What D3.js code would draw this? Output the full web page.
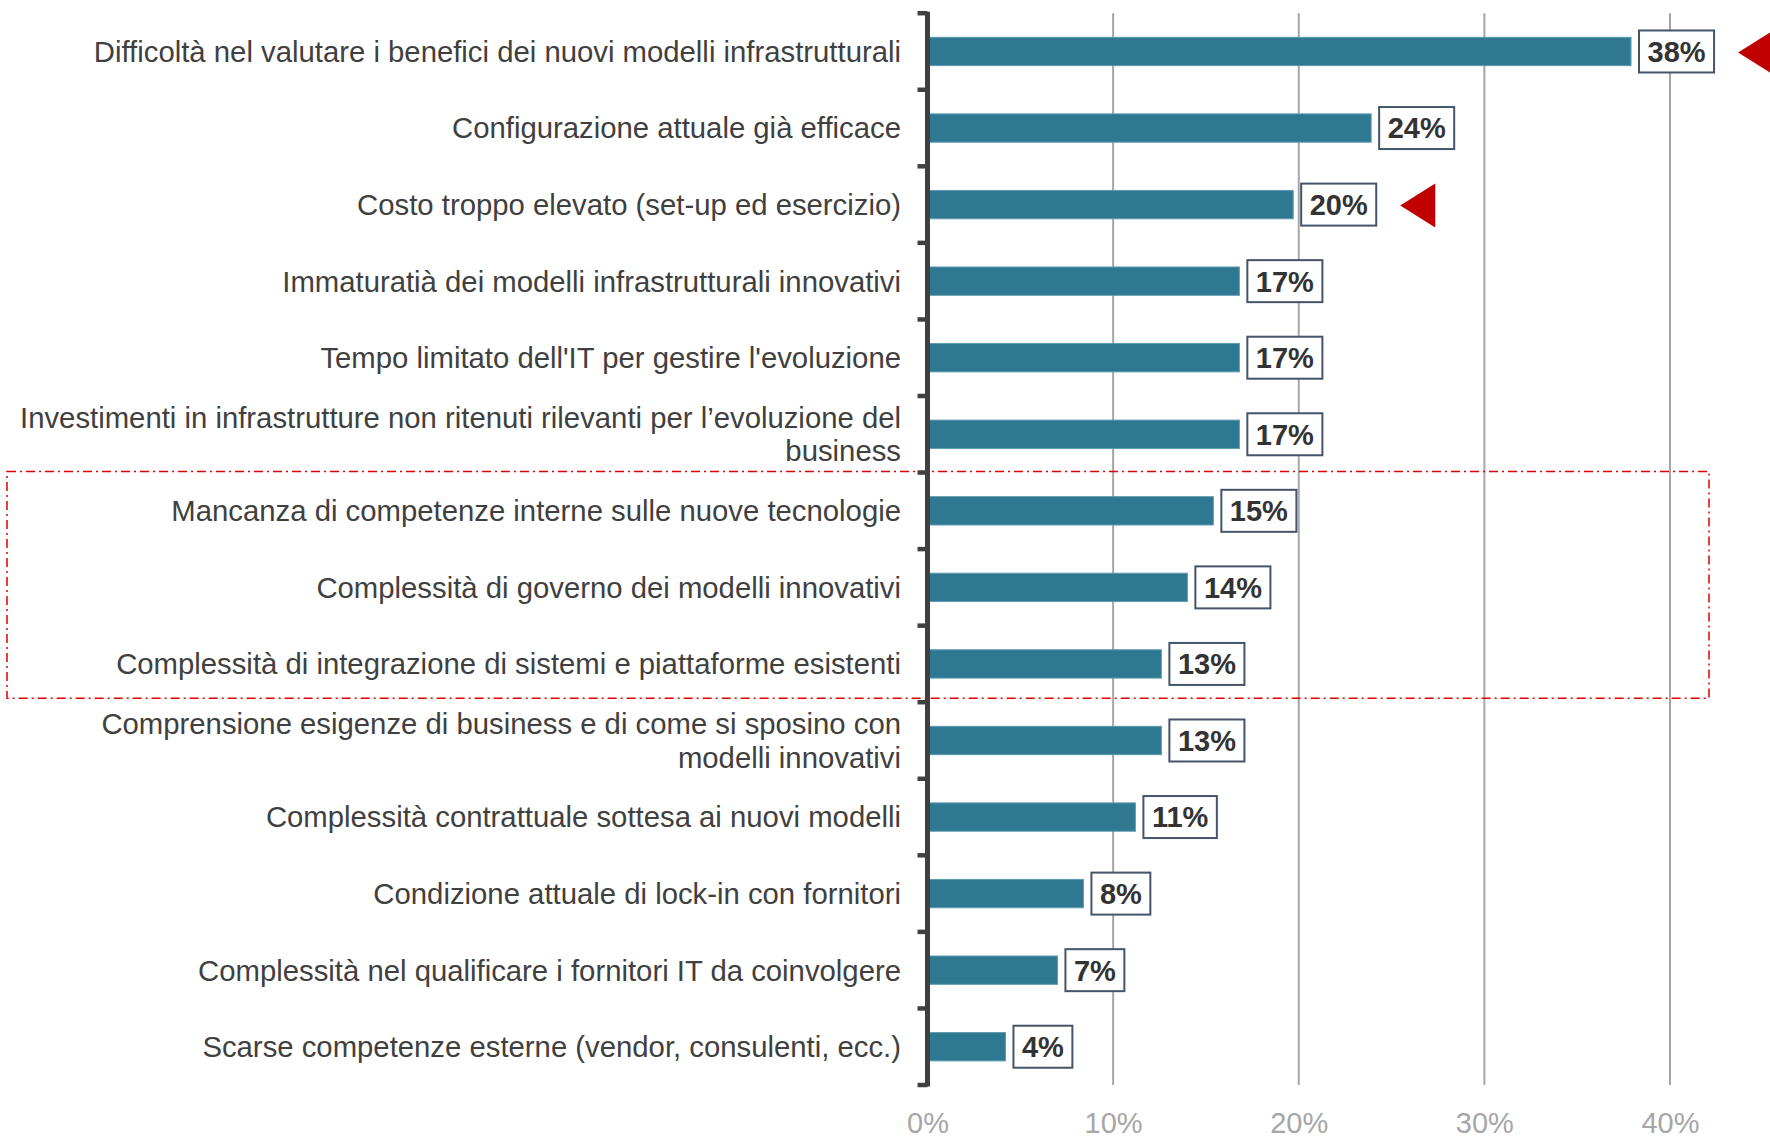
<!DOCTYPE html>
<html>
<head>
<meta charset="utf-8">
<script src="https://cdn.jsdelivr.net/npm/d3@7"></script>
<style>
  body { margin:0; background:#ffffff; }
  text { font-family: "Liberation Sans", Arial, sans-serif; }
</style>
</head>
<body>
<div id="chart"></div>
<script>
var w=1770
var h=1138

//Data (percent of respondents)
var categories=[
  "Difficoltà nel valutare i benefici dei nuovi modelli infrastrutturali",
  "Configurazione attuale già efficace",
  "Costo troppo elevato (set-up ed esercizio)",
  "Immaturatià dei modelli infrastrutturali innovativi",
  "Tempo limitato dell'IT per gestire l'evoluzione",
  "Investimenti in infrastrutture non ritenuti rilevanti per l’evoluzione del business",
  "Mancanza di competenze interne sulle nuove tecnologie",
  "Complessità di governo dei modelli innovativi",
  "Complessità di integrazione di sistemi e piattaforme esistenti",
  "Comprensione esigenze di business e di come si sposino con modelli innovativi",
  "Complessità contrattuale sottesa ai nuovi modelli",
  "Condizione attuale di lock-in con fornitori",
  "Complessità nel qualificare i fornitori IT da coinvolgere",
  "Scarse competenze esterne (vendor, consulenti, ecc.)"
];
var values=[37.9,23.9,19.7,16.8,16.8,16.8,15.4,14.0,12.6,12.6,11.2,8.4,7.0,4.2];
var tickValues=[0,10,20,30,40];
//Categories flagged with a red arrow
var arrowed=[categories[0],categories[2]];
//Categories inside the dashed red box
var boxed=[categories[6],categories[7],categories[8]];

var data=categories.map(function(c,i) {return {cat:c,value:values[i]};});

var svg=d3.select("#chart")
          .append("svg")
          .attr("width",w)
          .attr("height",h);

svg.append("rect")
   .attr("width",w)
   .attr("height",h)
   .attr("fill","#ffffff");

//Scales
var xScale=d3.scaleLinear()
             .domain([0,40])
             .range([927.5,1670]);

var yScale=d3.scaleBand()
             .domain(categories)
             .range([13.2,1085])
             .paddingInner(0.63)
             .paddingOuter(0.315);

var step=yScale.step();
var top0=yScale.range()[0];
var bottom0=yScale.range()[1];
function bandCenter(c) {return yScale(c)+yScale.bandwidth()/2;}
function bandTop(c) {return bandCenter(c)-step/2;}

//Gridlines
svg.append("g")
   .attr("class","grid")
   .selectAll("line")
   .data(tickValues.filter(function(t) {return t>0;}))
   .enter()
   .append("line")
   .attr("x1",function(d) {return xScale(d);})
   .attr("x2",function(d) {return xScale(d);})
   .attr("y1",top0)
   .attr("y2",bottom0)
   .attr("stroke","#a6a6a6")
   .attr("stroke-width",2);

//x-axis tick labels
var xAxis=d3.axisBottom()
            .scale(xScale)
            .tickValues(tickValues)
            .tickFormat(function(d) {return d+"%";})
            .tickSize(0)
            .tickPadding(27);

var xg=svg.append("g")
          .attr("class","axis")
          .attr("transform","translate(0,"+bottom0+")")
          .call(xAxis);
xg.select(".domain").remove();
xg.selectAll("text")
  .attr("font-size","29px")
  .attr("font-family","Liberation Sans, Arial, sans-serif")
  .attr("fill","#a6a6a6");

//Dashed highlight box
svg.append("rect")
   .attr("x",7)
   .attr("y",bandTop(boxed[0])-1)
   .attr("width",1702)
   .attr("height",bandTop(boxed[boxed.length-1])+step-4-(bandTop(boxed[0])-1))
   .attr("fill","none")
   .attr("stroke","#e00000")
   .attr("stroke-width",1.5)
   .attr("stroke-dasharray","9,4,2,4");

//Bars
svg.append("g")
   .attr("class","bars")
   .selectAll("rect")
   .data(data)
   .enter()
   .append("rect")
   .attr("x",xScale(0))
   .attr("y",function(d) {return yScale(d.cat);})
   .attr("width",function(d) {return xScale(d.value)-xScale(0);})
   .attr("height",yScale.bandwidth())
   .attr("fill","#2e7891")
   .attr("stroke","#5d9bb0")
   .attr("stroke-width",1);

//y-axis line with bracket ticks at band boundaries
var yAxisG=svg.append("g")
              .attr("class","y-axis");
yAxisG.append("line")
      .attr("x1",xScale(0))
      .attr("x2",xScale(0))
      .attr("y1",top0-1.5)
      .attr("y2",bottom0+1.5)
      .attr("stroke","#404040")
      .attr("stroke-width",5);
yAxisG.selectAll(".tick")
      .data(d3.range(categories.length+1))
      .enter()
      .append("line")
      .attr("class","tick")
      .attr("x1",xScale(0)-10)
      .attr("x2",xScale(0))
      .attr("y1",function(i) {return top0+i*step;})
      .attr("y2",function(i) {return top0+i*step;})
      .attr("stroke","#404040")
      .attr("stroke-width",4.5);

//Category labels (wrapped to the label column)
var labelRight=901;
var maxWidth=888;
var lineH=33.4;
var labels=svg.append("g")
              .attr("class","labels");
data.forEach(function(d) {
    var t=labels.append("text")
                .attr("x",labelRight)
                .attr("text-anchor","end")
                .attr("font-size","29.3px")
                .attr("fill","#404040");
    var words=d.cat.split(" ");
    var lines=[];
    var line=[];
    var probe=t.append("tspan");
    words.forEach(function(wd) {
        line.push(wd);
        probe.text(line.join(" "));
        if (probe.node().getComputedTextLength()>maxWidth && line.length>1) {
            line.pop();
            lines.push(line.join(" "));
            line=[wd];
        }
    });
    lines.push(line.join(" "));
    probe.remove();
    var c=bandCenter(d.cat);
    var first=c-(lines.length-1)*lineH/2+10.4;
    lines.forEach(function(l,i) {
        t.append("tspan")
         .attr("x",labelRight)
         .attr("y",first+i*lineH)
         .text(l);
    });
});

//Value labels in boxes
var valueLabels=svg.append("g")
                   .attr("class","value-labels");
var boxRight={};
data.forEach(function(d) {
    var g=valueLabels.append("g");
    var x0=xScale(d.value)+8;
    var c=bandCenter(d.cat);
    var box=g.append("rect");
    var t=g.append("text")
           .attr("font-size","29px")
           .attr("font-weight","bold")
           .attr("fill","#333333")
           .attr("text-anchor","middle")
           .text(Math.round(d.value)+"%");
    var tw=t.node().getComputedTextLength();
    var bw=tw+17;
    box.attr("x",x0)
       .attr("y",c-21)
       .attr("width",bw)
       .attr("height",42)
       .attr("fill","#ffffff")
       .attr("stroke","#44546a")
       .attr("stroke-width",2);
    t.attr("x",x0+bw/2)
     .attr("y",c+10.4);
    boxRight[d.cat]=x0+bw;
});

//Red arrows
svg.append("g")
   .attr("class","arrows")
   .selectAll("path")
   .data(arrowed)
   .enter()
   .append("path")
   .attr("d",function(c) {
       var tip=boxRight[c]+24;
       var cy=bandCenter(c)+1;
       return "M"+tip+","+cy+"L"+(tip+35)+","+(cy-22)+"L"+(tip+35)+","+(cy+22)+"Z";
   })
   .attr("fill","#c00000");
</script>
</body>
</html>
